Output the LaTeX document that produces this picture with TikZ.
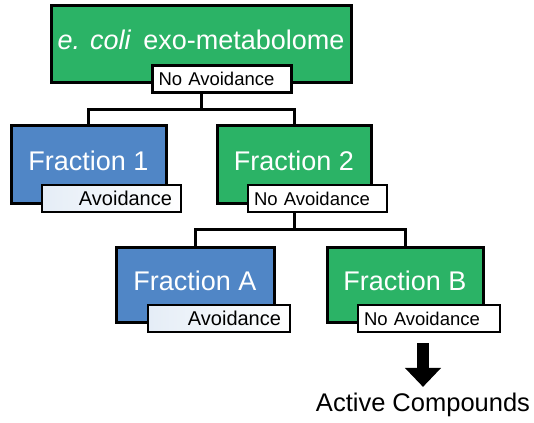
\documentclass[tikz,border=0pt]{standalone}
\usepackage{fontspec}
\setmainfont{Liberation Sans}
\usetikzlibrary{
    positioning,
    arrows.meta
}
\definecolor{hitgreen}{RGB}{43,179,102}
\definecolor{avoidblue}{RGB}{80,134,198}

\begin{document}
\begin{tikzpicture}[
    x=1pt, y=-1pt,
    fracbox/.style={
        rectangle, draw=black, line width=3pt, text=white,
        font=\fontsize{27}{29}\selectfont, text height=19pt, text depth=8pt,
        minimum width=155pt, minimum height=77pt, inner sep=0pt
    },
    hitbox/.style={fracbox, fill=hitgreen},
    avoidbox/.style={fracbox, fill=avoidblue},
    tag/.style={
        rectangle, draw=black, line width=2.5pt, fill=white,
        font=\fontsize{18.5}{20}\selectfont, minimum height=27pt,
        text width=127pt, inner xsep=6pt, inner ysep=0pt
    },
    notag/.style={tag, align=left},
    yestag/.style={tag, align=right, font=\fontsize{20}{22}\selectfont,
        left color=avoidblue!15, middle color=white, right color=white},
    link/.style={line width=3pt},
    bigarrow/.style={-{Triangle[width=35pt,length=19pt]}, line width=12pt}
]
\useasboundingbox (0,0) rectangle (534,422);

% Starting material
\node[hitbox, minimum width=300pt] (top_box) at (201,44.5)
    {\textit{e. coli}\, exo-metabolome};
\node[notag] (top_lbl) at (222,79) {No Avoidance};

% First split
\node[avoidbox] (frac1) at (88.5,164.5) {Fraction 1};
\node[yestag, inner xsep=9pt, text width=121pt] (frac1_lbl) at (111.5,198.5) {Avoidance};
\node[hitbox, minimum width=154pt] (frac2) at (294,164.5) {Fraction 2};
\node[notag] (frac2_lbl) at (317.5,198.5) {No Avoidance};

% Second split
\node[avoidbox, minimum width=158pt, minimum height=75pt] (fracA) at (195,284.5) {Fraction A};
\node[yestag, inner xsep=9pt, text width=124pt] (fracA_lbl) at (219,318.5) {Avoidance};
\node[hitbox, minimum width=156pt, minimum height=75pt] (fracB) at (405,284.5) {Fraction B};
\node[notag, text width=130pt] (fracB_lbl) at (429,318.5) {No Avoidance};

\node[font=\fontsize{25.5}{27}\selectfont, inner sep=0pt] (active) at (423,405) {Active Compounds};

% ------------------------------- Links ---------------------------------------
\draw[link] (top_box |- top_lbl.south) -- ++(0,16) -| (frac1.north);
\draw[link] (top_box |- top_lbl.south) -- ++(0,16) -| (frac2.north);
\draw[link] (frac2 |- frac2_lbl.south) -- ++(0,16) -| (fracA.north);
\draw[link] (frac2 |- frac2_lbl.south) -- ++(0,16) -| (fracB.north);

\draw[bigarrow, shorten <=10pt, shorten >=6pt] (fracB_lbl.south -| active.north) -- (active.north);

\end{tikzpicture}
\end{document}
